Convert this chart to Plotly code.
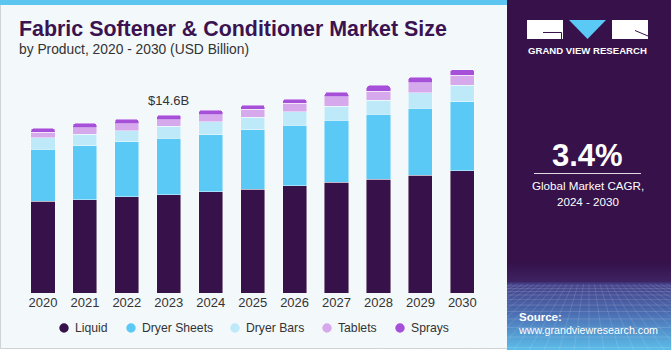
import plotly.graph_objects as go

W, H = 671, 350

years = ["2020", "2021", "2022", "2023", "2024", "2025", "2026", "2027", "2028", "2029", "2030"]
liquid = [7.52, 7.65, 7.88, 8.06, 8.29, 8.53, 8.78, 9.08, 9.35, 9.66, 10.01]
dryer_sheets = [4.29, 4.41, 4.51, 4.65, 4.68, 4.86, 5.00, 5.11, 5.33, 5.50, 5.69]
dryer_bars = [0.93, 0.98, 0.93, 0.96, 1.07, 1.03, 1.09, 1.15, 1.12, 1.28, 1.35]
tablets = [0.44, 0.52, 0.55, 0.54, 0.57, 0.66, 0.69, 0.76, 0.74, 0.80, 0.82]
sprays = [0.33, 0.36, 0.38, 0.39, 0.39, 0.34, 0.33, 0.36, 0.49, 0.47, 0.46]

series_names = ["Liquid", "Dryer Sheets", "Dryer Bars", "Tablets", "Sprays"]
series_values = [liquid, dryer_sheets, dryer_bars, tablets, sprays]
colors = ["#36114a", "#5bc9f6", "#bde9f9", "#d5a9ec", "#a64fd9"]

highlight_year = "2023"
highlight_label = "$14.6B"

FONT = "Liberation Sans, Arial, sans-serif"


def fx(x):
    return x / W


def fy(y):
    return 1 - y / H


def hex2rgb(h):
    h = h.lstrip("#")
    return tuple(int(h[i:i + 2], 16) for i in (0, 2, 4))


fig = go.Figure()
for name, vals, col in zip(series_names, series_values, colors):
    fig.add_trace(go.Bar(
        x=years, y=vals, name=name, marker_color=col,
        marker_line=dict(color="rgba(255,255,255,0.55)", width=0.8),
        showlegend=False,
    ))

shapes = []
annotations = []

# left card
shapes.append(dict(type="rect", xref="paper", yref="paper", x0=fx(0.5), x1=fx(510), y0=fy(348.5), y1=fy(0),
                   fillcolor="#f3f8fb", line=dict(color="#cfd3d6", width=1), layer="below"))
shapes.append(dict(type="rect", xref="paper", yref="paper", x0=fx(0), x1=fx(510), y0=fy(5), y1=fy(0),
                   fillcolor="#5cc6f1", line=dict(width=0), layer="below"))

# right panel
PX0 = 507
shapes.append(dict(type="rect", xref="paper", yref="paper", x0=fx(PX0), x1=fx(671), y0=fy(350), y1=fy(0),
                   fillcolor="#36114a", line=dict(width=0), layer="below"))
# gradient in bottom of right panel (piecewise stops)
stops = [(262, "#36114a"), (282, "#3e2463"), (283.5, "#45418a"), (315, "#4d72b5"), (350, "#5cbdea")]
for (ya, ca), (yb, cb) in zip(stops[:-1], stops[1:]):
    ra, rb = hex2rgb(ca), hex2rgb(cb)
    steps = max(1, int((yb - ya) / 2.5))
    for i in range(steps):
        t = (i + 0.5) / steps
        c = tuple(int(ra[k] + (rb[k] - ra[k]) * t) for k in range(3))
        y0 = ya + (yb - ya) * i / steps
        y1 = ya + (yb - ya) * (i + 1) / steps
        shapes.append(dict(type="rect", xref="paper", yref="paper", x0=fx(PX0), x1=fx(671),
                           y0=fy(min(y1 + 0.6, 350)), y1=fy(y0),
                           fillcolor="rgb(%d,%d,%d)" % c, line=dict(width=0), layer="below"))
# faint perspective grid
for k in range(-14, 15):
    shapes.append(dict(type="line", xref="paper", yref="paper", x0=fx(589 + k * 5.5), y0=fy(284),
                       x1=fx(589 + k * 15), y1=fy(350),
                       line=dict(color="rgba(255,255,255,0.16)", width=0.8), layer="below"))
for yy in [286, 288.5, 291.5, 295, 299.5, 305, 311.5, 319, 327.5, 337, 347.5]:
    shapes.append(dict(type="line", xref="paper", yref="paper", x0=fx(PX0), y0=fy(yy), x1=fx(671), y1=fy(yy),
                       line=dict(color="rgba(255,255,255,0.16)", width=0.8), layer="below"))

# logo
shapes.append(dict(type="rect", xref="paper", yref="paper", x0=fx(527), x1=fx(563), y0=fy(39), y1=fy(20),
                   fillcolor="white", line=dict(width=0)))
shapes.append(dict(type="path", xref="paper", yref="paper",
                   path="M %f %f L %f %f L %f %f Z" % (fx(569), fy(20), fx(606), fy(20), fx(587.5), fy(39)),
                   fillcolor="#5bc9f6", line=dict(width=0)))
shapes.append(dict(type="rect", xref="paper", yref="paper", x0=fx(612), x1=fx(648), y0=fy(39), y1=fy(20),
                   fillcolor="white", line=dict(width=0)))
shapes.append(dict(type="path", xref="paper", yref="paper",
                   path="M %f %f L %f %f L %f %f" % (fx(543), fy(32.5), fx(561.5), fy(32.5), fx(561.5), fy(39)),
                   line=dict(color="#36114a", width=1)))
shapes.append(dict(type="line", xref="paper", yref="paper", x0=fx(635), y0=fy(30.5), x1=fx(648), y1=fy(36),
                   line=dict(color="#36114a", width=1)))
annotations.append(dict(text="GRAND VIEW RESEARCH", xref="paper", yref="paper", x=fx(587.5), y=fy(51),
                        xanchor="center", yanchor="middle", showarrow=False,
                        font=dict(family=FONT, size=9.6, color="white", weight="bold")))

# CAGR
annotations.append(dict(text="3.4%", xref="paper", yref="paper", x=fx(587.5), y=fy(155),
                        xanchor="center", yanchor="middle", showarrow=False,
                        font=dict(family=FONT, size=31, color="white", weight="bold")))
shapes.append(dict(type="line", xref="paper", yref="paper", x0=fx(534), x1=fx(641), y0=fy(173.5), y1=fy(173.5),
                   line=dict(color="rgba(255,255,255,0.85)", width=1.2)))
annotations.append(dict(text="Global Market CAGR,", xref="paper", yref="paper", x=fx(587.5), y=fy(185),
                        xanchor="center", yanchor="middle", showarrow=False,
                        font=dict(family=FONT, size=11.6, color="white")))
annotations.append(dict(text="2024 - 2030", xref="paper", yref="paper", x=fx(587.5), y=fy(201),
                        xanchor="center", yanchor="middle", showarrow=False,
                        font=dict(family=FONT, size=11.6, color="white")))
annotations.append(dict(text="Source:", xref="paper", yref="paper", x=fx(517), y=fy(316.5),
                        xanchor="left", yanchor="middle", showarrow=False,
                        font=dict(family=FONT, size=11.5, color="white", weight="bold")))
annotations.append(dict(text="www.grandviewresearch.com", xref="paper", yref="paper", x=fx(516), y=fy(330),
                        xanchor="left", yanchor="middle", showarrow=False,
                        font=dict(family=FONT, size=10.7, color="white")))

# titles
annotations.append(dict(text="Fabric Softener & Conditioner Market Size", xref="paper", yref="paper",
                        x=fx(17), y=fy(29), xanchor="left", yanchor="middle", showarrow=False,
                        font=dict(family=FONT, size=21.4, color="#3a1350", weight="bold")))
annotations.append(dict(text="by Product, 2020 - 2030 (USD Billion)", xref="paper", yref="paper",
                        x=fx(17), y=fy(49), xanchor="left", yanchor="middle", showarrow=False,
                        font=dict(family=FONT, size=13.8, color="#333333")))

# highlight label
idx = years.index(highlight_year)
total = sum(v[idx] for v in series_values)
annotations.append(dict(text=highlight_label, x=idx, y=total, xref="x", yref="y",
                        xanchor="center", yanchor="bottom", yshift=5, showarrow=False,
                        font=dict(family=FONT, size=13, color="#333333")))

# manual legend
legend_marker_x = [64, 131, 235, 327, 400]
for name, col, mx in zip(series_names, colors, legend_marker_x):
    r = 4.7
    shapes.append(dict(type="circle", xref="paper", yref="paper", x0=fx(mx - r), x1=fx(mx + r),
                       y0=fy(328 + r), y1=fy(328 - r), fillcolor=col, line=dict(width=0)))
    annotations.append(dict(text=name, xref="paper", yref="paper", x=fx(mx + 9), y=fy(328),
                            xanchor="left", yanchor="middle", showarrow=False,
                            font=dict(family=FONT, size=12.2, color="#333333")))

fig.update_layout(
    width=W, height=H,
    margin=dict(l=0, r=0, t=0, b=0, autoexpand=False),
    paper_bgcolor="white", plot_bgcolor="rgba(0,0,0,0)",
    barmode="stack", bargap=0.425, barcornerradius=3,
    shapes=shapes, annotations=annotations,
    xaxis=dict(type="category", domain=[fx(22), fx(483.3)], range=[-0.5, len(years) - 0.5],
               showgrid=False, zeroline=False, showline=False,
               ticks="", automargin=False,
               tickfont=dict(family=FONT, size=13, color="#333333"), fixedrange=True),
    yaxis=dict(domain=[fy(293), fy(60)], range=[0, 233 / 12.19], visible=False, fixedrange=True,
               automargin=False),
    showlegend=False,
)

fig.write_html("out.html")
